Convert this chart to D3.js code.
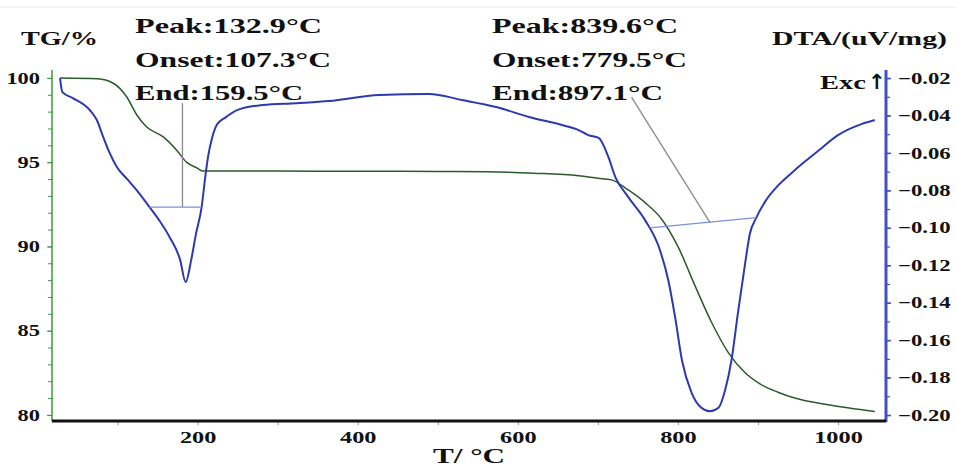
<!DOCTYPE html>
<html>
<head>
<meta charset="utf-8">
<script src="https://cdn.jsdelivr.net/npm/d3@7"></script>
<style>
  body { margin: 0; background: #fff; }
  svg { display: block; }
  svg text { font-family: "Liberation Serif", "Times New Roman", serif; font-weight: bold; fill: #111; }
</style>
</head>
<body>
<svg class="tg-dta" width="956" height="468"></svg>
<script>
// TG curve (mass %) vs temperature
const tgTemp = [28, 75, 94, 111, 124, 136, 157, 174, 186, 199, 206, 300, 400, 500, 560, 620, 676, 700, 717, 738, 759, 780, 800, 822, 842, 863, 884, 904, 925, 946, 988, 1046];
const tgMass = [100.0, 99.95, 99.7, 98.9, 97.8, 97.1, 96.5, 95.7, 95.0, 94.66, 94.48, 94.47, 94.46, 94.45, 94.43, 94.35, 94.2, 94.05, 93.95, 93.35, 92.6, 91.6, 90.0, 87.6, 85.5, 83.7, 82.5, 81.8, 81.35, 81.0, 80.6, 80.2];

// DTA curve (uV/mg) vs temperature
const dtaTemp = [28, 31, 44, 65, 74, 82, 90, 99, 112, 124, 140, 152, 165, 178, 185, 192, 198, 205, 209, 213, 218, 224, 235, 250, 281, 323, 364, 427, 489, 530, 573, 614, 655, 676, 688, 701, 713, 722, 738, 759, 776, 788, 797, 805, 817, 829, 840, 851, 859, 867, 875, 884, 890, 898, 909, 925, 940, 959, 975, 1000, 1030, 1046];
const dtaSignal = [-0.020, -0.0275, -0.0307, -0.037, -0.0424, -0.0515, -0.060, -0.0675, -0.074, -0.080, -0.089, -0.096, -0.105, -0.117, -0.129, -0.117, -0.103, -0.0888, -0.0745, -0.062, -0.052, -0.045, -0.041, -0.037, -0.0344, -0.0334, -0.0323, -0.029, -0.0285, -0.0317, -0.0355, -0.0408, -0.0451, -0.0478, -0.0505, -0.052, -0.062, -0.073, -0.0836, -0.0959, -0.110, -0.128, -0.149, -0.1706, -0.188, -0.196, -0.198, -0.196, -0.1867, -0.1706, -0.1455, -0.119, -0.103, -0.0946, -0.086, -0.0775, -0.0715, -0.0645, -0.059, -0.0505, -0.0445, -0.0424];

// peak evaluation marks: baselines and leader lines, [temp, dta]
const baseline1 = [[140, -0.0889], [205, -0.0889]];
const leader1 = [[181, -0.0889], [181, -0.0334]];
const baseline2 = [[765, -0.100], [898, -0.0946]];
const leader2 = [[840, -0.0971], [742, -0.0302]];

const notes1 = ['Peak:132.9°C', 'Onset:107.3°C', 'End:159.5°C'];
const notes2 = ['Peak:839.6°C', 'Onset:779.5°C', 'End:897.1°C'];

// tick labels
const tempTicks = [200, 400, 600, 800, 1000];
const tempMinor = [100, 200, 300, 400, 500, 600, 700, 800, 900, 1000];
const tgTicks = [80, 85, 90, 95, 100];
const dtaTicks = [-0.20, -0.18, -0.16, -0.14, -0.12, -0.10, -0.08, -0.06, -0.04, -0.02];

const box = { left: 52, right: 886, top: 70, bottom: 421 };
const serif = '"Liberation Serif", "Times New Roman", serif';
const svg = d3.select('svg.tg-dta');

const x = d3.scaleLinear().domain([18, 1060]).range([box.left, box.right]);
const yTG = d3.scaleLinear().domain([79.64, 100.47]).range([box.bottom, box.top]);
const yDTA = d3.scaleLinear().domain([-0.2032, -0.0157]).range([box.bottom, box.top]);

// stretch text horizontally like the original (wide bold serif)
function stretch(sel, k) {
  sel.each(function () {
    const w = this.getComputedTextLength();
    d3.select(this).attr('textLength', w * k).attr('lengthAdjust', 'spacingAndGlyphs');
  });
}

function tickText(g, size, k) {
  g.attr('font-family', null).attr('font-size', null);
  g.selectAll('text')
    .style('font-family', serif)
    .style('font-weight', 'bold')
    .style('font-size', size + 'px')
    .style('fill', '#111')
    .call(stretch, k);
}

// faint line along the top of the picture
svg.append('line')
  .attr('x1', 0).attr('x2', 956).attr('y1', 7).attr('y2', 7)
  .style('stroke', '#ececec').style('stroke-width', 1);

// curves
const tgData = tgTemp.map((t, i) => [t, tgMass[i]]);
const dtaData = dtaTemp.map((t, i) => [t, dtaSignal[i]]);

svg.append('path')
  .datum(tgData)
  .attr('d', d3.line().x(d => x(d[0])).y(d => yTG(d[1])).curve(d3.curveMonotoneX))
  .style('fill', 'none').style('stroke', '#2b5a2b').style('stroke-width', 1.5);

svg.append('path')
  .datum(dtaData)
  .attr('d', d3.line().x(d => x(d[0])).y(d => yDTA(d[1])).curve(d3.curveMonotoneX))
  .style('fill', 'none').style('stroke', '#2d3aae').style('stroke-width', 2);

const straight = d3.line().x(d => x(d[0])).y(d => yDTA(d[1]));
[baseline1, baseline2].forEach(b => {
  svg.append('path').datum(b).attr('d', straight)
    .style('fill', 'none').style('stroke', '#7f8fe0').style('stroke-width', 1.3);
});
[leader1, leader2].forEach(b => {
  svg.append('path').datum(b).attr('d', straight)
    .style('fill', 'none').style('stroke', '#8a8a8a').style('stroke-width', 1.3);
});

// left axis (TG)
const left = svg.append('g').attr('transform', `translate(${box.left},0)`)
  .call(d3.axisLeft(yTG).tickValues(d3.range(80, 101, 1)).tickSize(4).tickFormat(''));
left.select('.domain').remove();
left.selectAll('line').style('stroke', '#3a9a3a');
const leftMajor = svg.append('g').attr('transform', `translate(${box.left},0)`)
  .call(d3.axisLeft(yTG).tickValues(tgTicks).tickSize(5).tickPadding(7));
leftMajor.select('.domain').remove();
leftMajor.selectAll('line').style('stroke', '#3a9a3a');
leftMajor.call(tickText, 16, 1.4);
svg.append('line')
  .attr('x1', box.left).attr('x2', box.left).attr('y1', box.top).attr('y2', box.bottom)
  .style('stroke', '#3a9a3a').style('stroke-width', 1.5);

// right axis (DTA)
const minorDta = d3.range(0, 19).map(i => -0.20 + i * 0.01);
const right = svg.append('g').attr('transform', `translate(${box.right},0)`)
  .call(d3.axisRight(yDTA).tickValues(minorDta).tickSize(4).tickFormat(''));
right.select('.domain').remove();
right.selectAll('line').style('stroke', '#4050c8').style('stroke-width', 1.2);
const rightMajor = svg.append('g').attr('transform', `translate(${box.right},0)`)
  .call(d3.axisRight(yDTA).tickValues(dtaTicks).tickSize(5).tickPadding(7).tickFormat(d3.format('.2f')));
rightMajor.select('.domain').remove();
rightMajor.selectAll('line').style('stroke', '#4050c8').style('stroke-width', 1.5);
rightMajor.call(tickText, 16, 1.42);
svg.append('line')
  .attr('x1', box.right).attr('x2', box.right).attr('y1', box.top).attr('y2', box.bottom + 1)
  .style('stroke', '#4050c8').style('stroke-width', 3);

// bottom axis (temperature)
const bottom = svg.append('g').attr('transform', `translate(0,${box.bottom})`)
  .call(d3.axisBottom(x).tickValues(tempMinor).tickSize(4).tickFormat(''));
bottom.select('.domain').remove();
bottom.selectAll('line').style('stroke', '#999').style('stroke-width', 1);
const bottomMajor = svg.append('g').attr('transform', `translate(0,${box.bottom})`)
  .call(d3.axisBottom(x).tickValues(tempTicks).tickSize(0).tickPadding(10).tickFormat(d3.format('d')));
bottomMajor.select('.domain').remove();
bottomMajor.call(tickText, 17, 1.43);
svg.append('line')
  .attr('x1', box.left).attr('x2', box.right).attr('y1', box.bottom).attr('y2', box.bottom)
  .style('stroke', '#111').style('stroke-width', 3);

// titles and peak notes
function label(txt, px, py, size, width) {
  const t = svg.append('text')
    .attr('x', px).attr('y', py)
    .style('font-size', size + 'px')
    .text(txt);
  if (width) t.attr('textLength', width).attr('lengthAdjust', 'spacingAndGlyphs');
  return t;
}

label('TG/%', 21, 45, 18, 77);
label('DTA/(uV/mg)', 772, 45, 19, 175);
label('Exc', 820, 89, 19, 46);
label('↑', 868, 89, 21).style('font-family', '"DejaVu Sans", sans-serif');
label('T/ °C', 433, 463, 20, 72);

const noteY = [33, 67, 100];
const noteW1 = [187, 196, 168];
const noteW2 = [186, 195, 171];
notes1.forEach((t, i) => label(t, 135, noteY[i], 22, noteW1[i]));
notes2.forEach((t, i) => label(t, 492, noteY[i], 22, noteW2[i]));
</script>
</body>
</html>
